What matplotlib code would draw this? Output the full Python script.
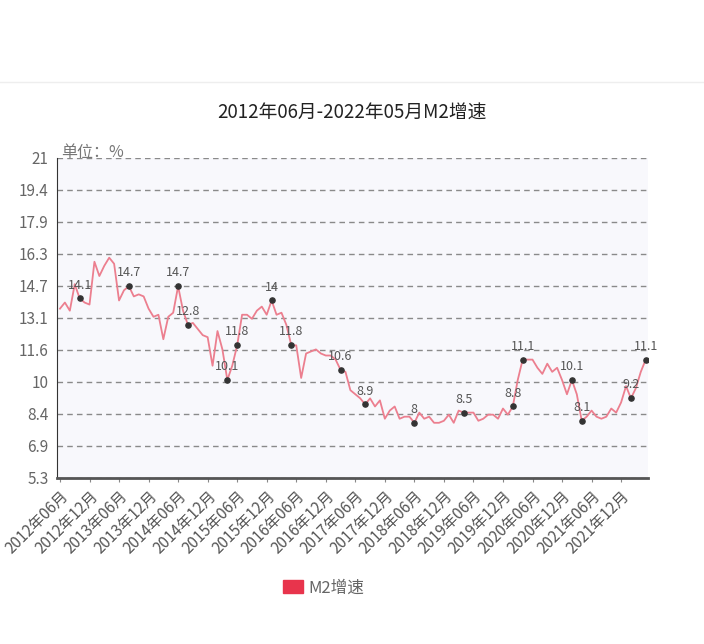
import numpy as np
import matplotlib
matplotlib.use("Agg")
import matplotlib.pyplot as plt
from matplotlib.lines import Line2D
from matplotlib.patches import Patch

plt.rcParams['font.family'] = ['Noto Sans CJK SC', 'DejaVu Sans']

# M2 year-on-year growth, monthly, 2012-06 .. 2022-05 (%)
m2_growth = [
    13.6, 13.9, 13.5, 14.8, 14.1, 13.9, 13.8,
    15.9, 15.2, 15.7, 16.1, 15.8, 14.0, 14.5, 14.7, 14.2, 14.3, 14.2, 13.6,
    13.2, 13.3, 12.1, 13.2, 13.4, 14.7, 13.5, 12.8, 12.9, 12.6, 12.3, 12.2,
    10.8, 12.5, 11.6, 10.1, 10.8, 11.8, 13.3, 13.3, 13.1, 13.5, 13.7, 13.3,
    14.0, 13.3, 13.4, 12.8, 11.8, 11.8, 10.2, 11.4, 11.5, 11.6, 11.4, 11.3,
    11.3, 11.1, 10.6, 10.5, 9.6, 9.4, 9.2, 8.9, 9.2, 8.8, 9.1, 8.2,
    8.6, 8.8, 8.2, 8.3, 8.3, 8.0, 8.5, 8.2, 8.3, 8.0, 8.0, 8.1,
    8.4, 8.0, 8.6, 8.5, 8.5, 8.5, 8.1, 8.2, 8.4, 8.4, 8.2, 8.7,
    8.4, 8.8, 10.1, 11.1, 11.1, 11.1, 10.7, 10.4, 10.9, 10.5, 10.7, 10.1,
    9.4, 10.1, 9.4, 8.1, 8.3, 8.6, 8.3, 8.2, 8.3, 8.7, 8.5, 9.0,
    9.8, 9.2, 9.7, 10.5, 11.1,
]

# months that carry a marker and value label
labeled_idx = [4, 14, 24, 26, 34, 36, 43, 47, 57, 62, 72, 82, 92, 94, 104, 106, 116, 119]

x_tick_labels = [f"{y}年{m}月" for y in range(2012, 2022) for m in ("06", "12")]
y_ticks = np.linspace(5.3, 21, 11)
y_tick_labels = ["5.3", "6.9", "8.4", "10", "11.6", "13.1", "14.7", "16.3", "17.9", "19.4", "21"]

x = np.arange(len(m2_growth))
vals = np.array(m2_growth)

fig = plt.figure(figsize=(7.04, 6.44), dpi=100)
ax = fig.add_axes([0.081, 0.258, 0.839, 0.497])
ax.set_facecolor("#f8f8fc")

# faint separator line at the top of the page
fig.add_artist(Line2D([0, 1], [0.872, 0.872], color="#eeeeee", lw=1))

for yt in y_ticks:
    ax.axhline(yt, color="#8a8a8a", lw=1, ls=(0, (4, 3)), zorder=1)

ax.plot(x, vals, color="#ec7f8f", lw=1.3, zorder=3)
ax.scatter(x[labeled_idx], vals[labeled_idx], s=14, color="#333333", zorder=4)
for i in labeled_idx:
    ax.annotate(f"{vals[i]:g}", (x[i], vals[i]), xytext=(0, 5), textcoords="offset points",
                ha="center", va="bottom", fontsize=9, color="#555555", zorder=5)

ax.set_xlim(-0.6, 119.4)
ax.set_ylim(5.3, 21)
ax.set_yticks(y_ticks)
ax.set_yticklabels(y_tick_labels, fontsize=11, color="#666666")
ax.tick_params(axis="y", length=0, pad=6)

ax.set_xticks(np.arange(0, 120, 6))
ax.set_xticklabels(x_tick_labels, rotation=45, ha="right", rotation_mode="anchor",
                   fontsize=11, color="#555555")
ax.tick_params(axis="x", length=3, color="#888888", pad=4)

for s in ("top", "right"):
    ax.spines[s].set_visible(False)
ax.spines["left"].set_color("#333333")
ax.spines["bottom"].set_color("#555555")
ax.spines["bottom"].set_linewidth(2)

ax.text(0.2, 20.85, "单位：%", fontsize=11.5, color="#777777", ha="left", va="bottom")

fig.text(0.5, 0.824, "2012年06月-2022年05月M2增速", ha="center", va="center",
         fontsize=13.5, color="#222222")

fig.legend(handles=[Patch(color="#e8344c", label="M2增速")], loc="center",
           bbox_to_anchor=(0.46, 0.087), frameon=False, fontsize=12,
           handlelength=1.2, handleheight=0.8, handletextpad=0.3, labelcolor="#666666")

fig.savefig("out.png", dpi=100, facecolor="white")
